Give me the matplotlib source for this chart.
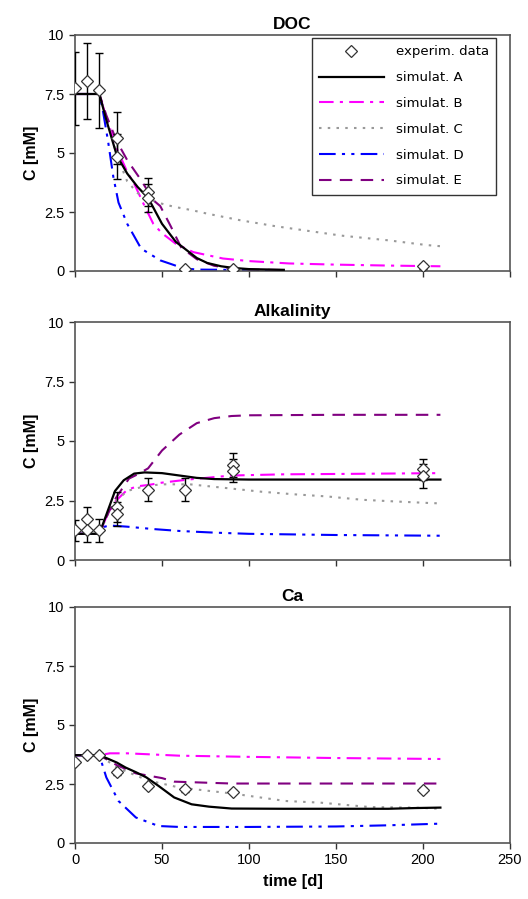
import numpy as np
import matplotlib
matplotlib.use("Agg")
import matplotlib.pyplot as plt

plt.rcParams['font.family'] = ['Liberation Sans', 'DejaVu Sans']

# ---- experimental data (time [d], C [mM], error) ----
doc_t = [0, 7, 14, 24, 24, 42, 42, 63, 91, 200]
doc_c = [7.75, 8.05, 7.65, 5.65, 4.85, 3.35, 3.1, 0.08, 0.1, 0.2]
doc_e = [1.55, 1.63, 1.6, 1.1, 0.95, 0.6, 0.6, 0.05, 0.05, 0.1]

alk_t = [0, 7, 7, 14, 24, 24, 42, 63, 91, 91, 200, 200]
alk_c = [1.24, 1.73, 1.24, 1.24, 2.22, 1.94, 2.96, 2.96, 3.99, 3.75, 3.81, 3.52]
alk_e = [0.45, 0.48, 0.5, 0.48, 0.62, 0.5, 0.48, 0.48, 0.5, 0.48, 0.43, 0.5]

ca_t = [0, 7, 14, 24, 42, 63, 91, 200]
ca_c = [3.45, 3.73, 3.74, 2.99, 2.4, 2.28, 2.18, 2.25]
ca_e = [0.05, 0.08, 0.06, 0.1, 0.08, 0.1, 0.08, 0.1]

# ---- simulations ----
# DOC
docA_t = [0, 14, 18, 24, 30, 36, 42, 50, 58, 63, 70, 76, 84, 91, 100, 120]
docA_c = [7.5, 7.5, 6.4, 4.9, 4.13, 3.56, 3.1, 2.0, 1.23, 0.95, 0.55, 0.34, 0.2, 0.13, 0.08, 0.05]
docB_t = [0, 14, 18, 24, 30, 34, 40, 45, 50, 58, 68, 85, 100, 123, 150, 180, 210]
docB_c = [7.5, 7.5, 6.5, 5.2, 4.2, 3.7, 2.75, 2.0, 1.6, 1.15, 0.8, 0.53, 0.42, 0.32, 0.27, 0.23, 0.2]
docC_t = [0, 14, 20, 24, 30, 36, 42, 50, 57, 67, 76, 95, 115, 153, 180, 202, 210]
docC_c = [7.5, 7.5, 6.0, 4.9, 3.8, 3.3, 3.05, 2.85, 2.72, 2.58, 2.43, 2.15, 1.9, 1.5, 1.3, 1.1, 1.05]
docD_t = [0, 14, 16, 19, 22, 25, 30, 38, 49, 55, 62, 70, 120]
docD_c = [7.5, 7.5, 6.8, 5.5, 4.0, 2.9, 2.0, 0.95, 0.45, 0.3, 0.12, 0.06, 0.03]
docE_t = [0, 14, 18, 24, 30, 38, 45, 49, 55, 61, 70, 80, 91, 100, 120]
docE_c = [7.5, 7.5, 6.6, 5.5, 4.7, 3.85, 3.0, 2.75, 1.9, 1.0, 0.5, 0.22, 0.1, 0.06, 0.04]

# Alkalinity
alkA_t = [0, 14, 23, 28, 34, 40, 50, 60, 70, 80, 100, 150, 210]
alkA_c = [1.1, 1.1, 2.9, 3.35, 3.63, 3.68, 3.65, 3.55, 3.45, 3.4, 3.38, 3.38, 3.38]
alkB_t = [0, 14, 18, 23, 30, 36, 42, 50, 65, 90, 120, 160, 210]
alkB_c = [1.1, 1.1, 1.8, 2.45, 2.95, 3.1, 3.15, 3.25, 3.38, 3.55, 3.6, 3.62, 3.65]
alkC_t = [0, 14, 18, 23, 30, 40, 50, 66, 90, 107, 126, 145, 165, 184, 205, 210]
alkC_c = [1.1, 1.1, 1.8, 2.45, 2.9, 3.1, 3.18, 3.18, 3.0, 2.87, 2.76, 2.67, 2.53, 2.46, 2.39, 2.38]
alkD_t = [0, 14, 17, 20, 30, 45, 60, 80, 100, 150, 210]
alkD_c = [1.1, 1.1, 1.4, 1.45, 1.4, 1.3, 1.22, 1.15, 1.1, 1.05, 1.02]
alkE_t = [0, 14, 18, 23, 31, 36, 42, 50, 60, 70, 80, 90, 100, 150, 210]
alkE_c = [1.1, 1.1, 1.8, 2.55, 3.42, 3.6, 3.85, 4.6, 5.27, 5.75, 5.96, 6.05, 6.08, 6.1, 6.1]

# Ca
caA_t = [0, 14, 18, 24, 29, 35, 41, 48, 57, 67, 77, 90, 120, 150, 180, 195, 210]
caA_c = [3.72, 3.72, 3.6, 3.41, 3.2, 3.0, 2.78, 2.42, 1.93, 1.64, 1.54, 1.46, 1.45, 1.45, 1.45, 1.48, 1.5]
caB_t = [0, 14, 20, 30, 60, 100, 150, 210]
caB_c = [3.72, 3.72, 3.8, 3.8, 3.7, 3.65, 3.6, 3.56]
caC_t = [0, 14, 24, 42, 60, 90, 121, 141, 170, 195, 210]
caC_c = [3.72, 3.72, 3.2, 2.65, 2.35, 2.1, 1.78, 1.71, 1.52, 1.5, 1.45]
caD_t = [0, 14, 18, 25, 35, 48, 60, 100, 150, 180, 210]
caD_c = [3.72, 3.72, 2.78, 1.78, 1.08, 0.72, 0.68, 0.68, 0.7, 0.75, 0.82]
caE_t = [0, 14, 24, 35, 50, 57, 90, 150, 210]
caE_c = [3.72, 3.72, 3.3, 2.95, 2.75, 2.6, 2.52, 2.52, 2.52]

sim_labels = ['simulat. A', 'simulat. B', 'simulat. C', 'simulat. D', 'simulat. E']
sim_styles = [
    dict(color='black', lw=1.6, ls='-'),
    dict(color='#FF00FF', lw=1.5, ls=(0, (7, 3, 1.5, 3))),
    dict(color='#999999', lw=1.5, ls=(0, (1.2, 3))),
    dict(color='#0000FF', lw=1.5, ls=(0, (8, 3, 1.5, 3, 1.5, 3))),
    dict(color='#800080', lw=1.5, ls=(0, (6, 4))),
]

panels = [
    ('DOC', (doc_t, doc_c, doc_e),
     [(docA_t, docA_c), (docB_t, docB_c), (docC_t, docC_c), (docD_t, docD_c), (docE_t, docE_c)]),
    ('Alkalinity', (alk_t, alk_c, alk_e),
     [(alkA_t, alkA_c), (alkB_t, alkB_c), (alkC_t, alkC_c), (alkD_t, alkD_c), (alkE_t, alkE_c)]),
    ('Ca', (ca_t, ca_c, ca_e),
     [(caA_t, caA_c), (caB_t, caB_c), (caC_t, caC_c), (caD_t, caD_c), (caE_t, caE_c)]),
]

W, H = 528, 899
fig = plt.figure(figsize=(W / 100, H / 100), dpi=100)
# axes boxes in pixels: (left, top, right, bottom)
boxes = [(75, 35, 510, 271), (75, 322, 510, 560), (75, 607, 510, 843)]

for k, (title, exp, sims) in enumerate(panels):
    l, t, r, b = boxes[k]
    ax = fig.add_axes([l / W, 1 - b / H, (r - l) / W, (b - t) / H])
    handles = []
    for (st, sc), style, lab in zip(sims, sim_styles, sim_labels):
        h, = ax.plot(st, sc, label=lab, **style)
        handles.append(h)
    # A drawn on top
    handles[0].set_zorder(4)
    et, ec, ee = exp
    ax.errorbar(et, ec, yerr=ee, fmt='none', ecolor='black', elinewidth=1,
                capsize=3, capthick=1, zorder=5)
    hexp, = ax.plot(et, ec, 'D', ms=6, mfc='white', mec='#333333', mew=0.9,
                    ls='none', zorder=6, label='experim. data')

    ax.set_xlim(0, 250)
    ax.set_ylim(0, 10)
    ax.set_xticks([0, 50, 100, 150, 200, 250])
    ax.set_yticks([0, 2.5, 5, 7.5, 10])
    ax.set_yticklabels(['0', '2.5', '5', '7.5', '10'])
    ax.tick_params(direction='out', length=4, width=1, color='#333333', labelsize=10.5)
    if k < 2:
        ax.set_xticklabels([])
    else:
        ax.set_xlabel('time [d]', fontsize=12, fontweight='bold', labelpad=5)
    for s in ax.spines.values():
        s.set_color('#555555')
        s.set_linewidth(1.2)
    ax.set_title(title, fontsize=12.5, fontweight='bold', pad=4)
    ax.set_ylabel('C [mM]', fontsize=11.5, fontweight='bold', labelpad=4)

    if k == 0:
        leg = ax.legend([hexp] + handles, ['experim. data'] + sim_labels,
                        loc='upper right', bbox_to_anchor=(0.968, 0.987),
                        borderaxespad=0, prop={'family': 'DejaVu Sans', 'size': 9.5},
                        frameon=True, fancybox=False, edgecolor='black',
                        handlelength=4.9, labelspacing=0.97,
                        borderpad=0.55, handletextpad=0.9)
        leg.get_frame().set_linewidth(1.0)

fig.savefig('out.png', dpi=100)
